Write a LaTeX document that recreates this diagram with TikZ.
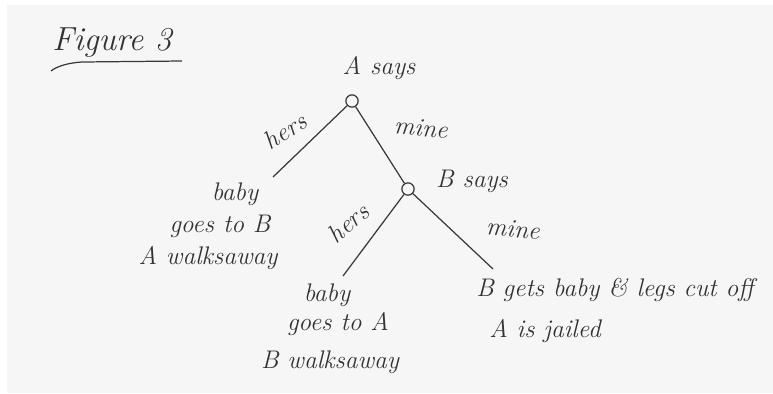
\documentclass[tikz,border=0pt]{standalone}
\usepackage{fontspec}
\begin{document}
\begin{tikzpicture}[
  x=0.02cm, y=-0.02cm,
  pencil/.style={draw=gray!45!black, line width=0.7pt},
  hand/.style={font=\fontsize{14.5}{17}\selectfont\itshape, text=gray!40!black, inner sep=0pt},
  decision/.style={circle, draw=gray!45!black, line width=0.7pt, minimum size=7pt, inner sep=0pt},
]

% ============================================================
% PAPER
% ============================================================
\fill[white] (0,0) rectangle (773,393);
\fill[gray!7] (7,5) rectangle (773,393);
\useasboundingbox (0,0) rectangle (773,393);

% ============================================================
% TITLE
% ============================================================
\node[hand, font=\fontsize{19}{22}\selectfont\itshape] (title) at (112,43) {Figure 3};
\draw[pencil] (182,61) -- (82,62) .. controls (66,63) and (56,67) .. (51,71);

% ============================================================
% DECISION NODES
% ============================================================
\node[decision] (A) at (352,101) {};
\node[decision] (B) at (408,189) {};
\node[hand] (Asays) at (379,68) {A says};
\node[hand] (Bsays) at (472,181) {B says};

% branch ends
\coordinate (endAhers) at (273,177);
\coordinate (endBhers) at (343,276);
\coordinate (endBmine) at (493,269);

% ============================================================
% BRANCHES
% ============================================================
\draw[pencil] (A) -- (endAhers);
\draw[pencil] (A) -- (B);
\draw[pencil] (B) -- (endBhers);
\draw[pencil] (B) -- (endBmine);

\node[hand, rotate=33] (hersA) at (285,131) {hers};
\node[hand, rotate=-5] (mineA) at (421,128) {mine};
\node[hand, rotate=40] (hersB) at (348,223) {hers};
\node[hand, rotate=-5] (mineB) at (513,229) {mine};

% ============================================================
% OUTCOMES
% ============================================================
\node[hand] (babyB) at (235,194) {baby};
\node[hand] (goesB) at (220,226) {goes to B};
\node[hand] (awayA) at (208,258) {A walksaway};

\node[hand] (babyA) at (327,295) {baby};
\node[hand] (goesA) at (338,324) {goes to A};
\node[hand] (awayB) at (330,362) {B walksaway};

\node[hand] (legs) at (615,290) {B gets baby \& legs cut off};
\node[hand] (jailed) at (545,331) {A is jailed};

\end{tikzpicture}
\end{document}
